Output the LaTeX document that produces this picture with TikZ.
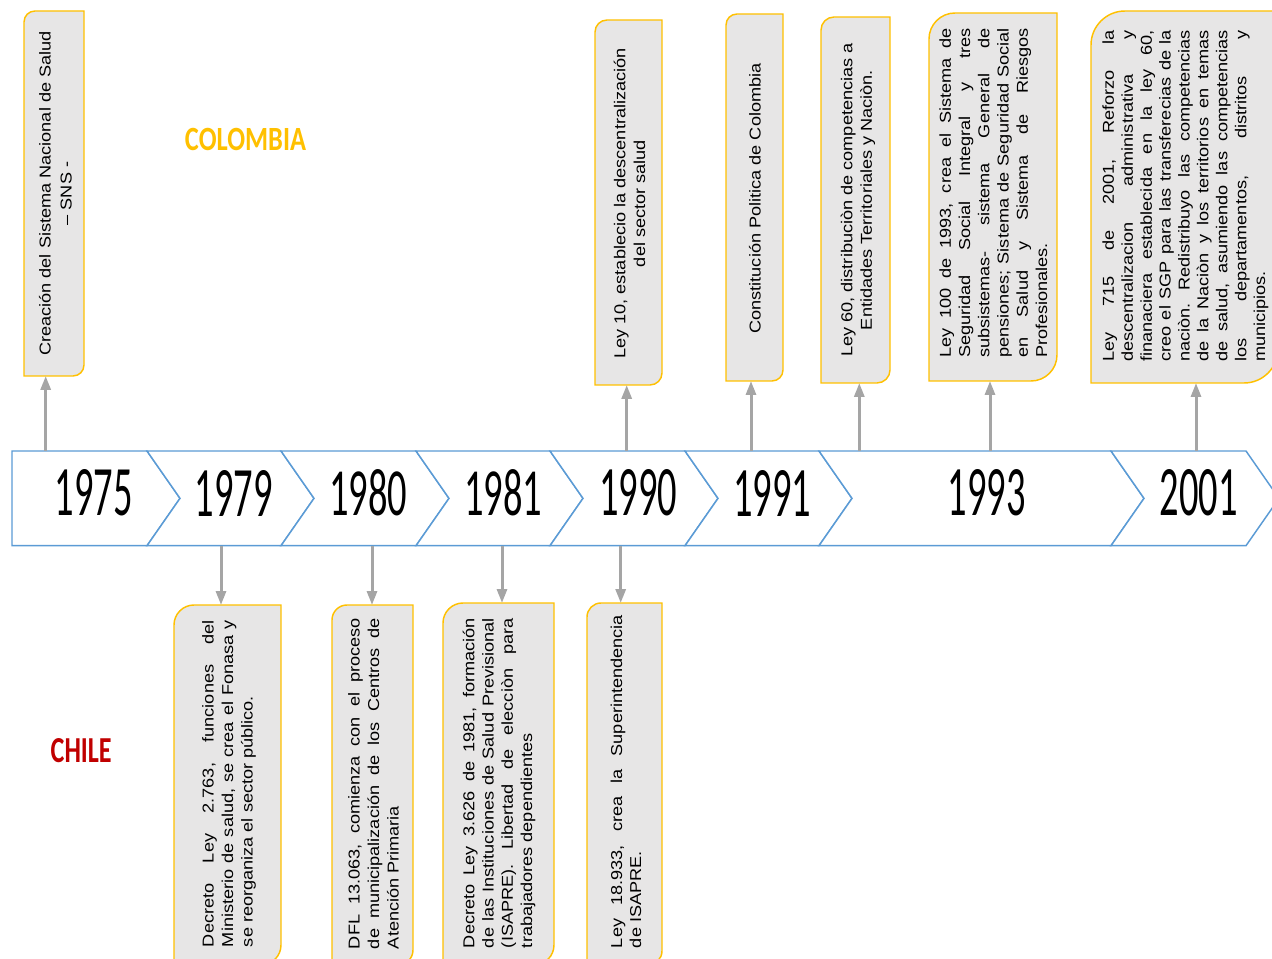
\documentclass[tikz,border=0pt]{standalone}
\usepackage{fontspec}
\usepackage{graphicx}
\setmainfont{Liberation Sans}
\newfontfamily\calfont{Carlito}
\usetikzlibrary{arrows.meta}
\definecolor{chevblue}{HTML}{5B9BD5}
\definecolor{boxgold}{HTML}{FFC000}
\definecolor{boxfill}{HTML}{E7E6E6}
\definecolor{arrgray}{HTML}{A5A5A5}
\definecolor{chilered}{HTML}{C00000}
\newcommand\mydiagbox[6]{%
  \draw[boxline] (#2,{#3+#6}) .. controls (#2,{#3+0.448*#6}) and ({#2+0.448*#6},#3) .. ({#2+#6},#3) -- (#4,#3) -- (#4,{#5-#6}) .. controls (#4,{#5-0.448*#6}) and ({#4-0.448*#6},#5) .. ({#4-#6},#5) -- (#2,#5) -- cycle;
  \node[area, minimum width={(#4-#2)*0.75pt}, minimum height={(#5-#3)*0.75pt}] (#1) at ({(#2+#4)/2},{(#3+#5)/2}) {};
}
\newcommand\vtxt[6]{%
  \node[vtext] (#1) at (#2,#3) {\scalebox{1}[0.87]{\parbox{#5}{\fontsize{13.6pt}{#4}\selectfont\frenchspacing\tolerance=10000\hbadness=10000\hyphenpenalty=10000\relax #6}}};
}
\newcommand\yr[3]{%
  \node[year] (y#1) at (#2,#3) {\resizebox{58.5pt}{34.5pt}{\calfont #1}};
}
\begin{document}
\begin{tikzpicture}[x=0.75pt,y=-0.75pt,
  chev/.style={draw=chevblue, line width=1.1pt, fill=white, line join=miter},
  boxline/.style={draw=boxgold, line width=1.1pt, fill=boxfill},
  area/.style={inner sep=0pt, outer sep=0pt},
  arr/.style={draw=arrgray, line width=2.25pt, -{Triangle[length=10.5pt,width=7.5pt]}},
  vtext/.style={rotate=90, inner sep=0pt, outer sep=0pt},
  year/.style={inner sep=0pt, outer sep=0pt},
]
\useasboundingbox (0,0) rectangle (1272,959);
\clip (0,0) rectangle (1272,959);
% timeline band
\draw[chev] (12,451) -- (147,451) -- (180,498.35) -- (147,545.7) -- (12,545.7) -- cycle;
\foreach \L/\R in {147/281, 281/416, 416/550, 550/685, 685/819, 819/1111, 1111/1246} {
  \draw[chev] (\L,451) -- (\R,451) -- ({\R+33},498.35) -- (\R,545.7) -- (\L,545.7) -- ({\L+33},498.35) -- cycle;
}
\node[area, minimum width=945pt, minimum height=71.025pt] (band) at (642,498.35) {};
% years
\yr{1975}{93.5}{493}
\yr{1979}{233.5}{493}
\yr{1980}{368}{493}
\yr{1981}{503}{493}
\yr{1990}{638}{493}
\yr{1991}{772}{493}
\yr{1993}{986.5}{493}
\yr{2001}{1198.5}{493}
% country labels
\node[year, text=boxgold] (colombia) at (245.5,139.5) {\resizebox{90.75pt}{16.7pt}{\calfont\bfseries COLOMBIA}};
\node[year, text=chilered] (chile) at (81.2,750.3) {\resizebox{45.75pt}{18pt}{\calfont\bfseries CHILE}};
% boxes
\mydiagbox{b1975}{24}{11}{84}{376}{11}
\mydiagbox{b1990u}{595}{20}{662}{385}{12}
\mydiagbox{b1991}{726}{14}{783}{381}{11}
\mydiagbox{b1993a}{821}{17}{890}{383}{13}
\mydiagbox{b1993}{929}{13}{1057}{381}{26}
\mydiagbox{b2001}{1091}{11}{1278}{383}{34}
\mydiagbox{b1979}{174}{605}{281}{965}{20}
\mydiagbox{b1980}{332}{605}{413}{965}{15}
\mydiagbox{b1981}{443}{603}{554}{965}{20}
\mydiagbox{b1990l}{587}{603}{662}{965}{14}
% texts
\vtxt{t1975}{55.5}{193.5}{18.1pt}{250pt}{\centering Creación del Sistema Nacional de Salud\\– SNS -}
\vtxt{t1990u}{629.5}{203.5}{17.2pt}{250pt}{\centering Ley 10, establecio la descentralización\\del sector salud}
\vtxt{t1991}{755}{198.5}{17pt}{250pt}{\centering Constitución Politica de Colombia}
\vtxt{t1993a}{858}{200}{16.8pt}{250pt}{\centering Ley 60, distribuciòn de competencias a\\Entidades Territoriales y Naciòn.}
\vtxt{t1993}{993.3}{193}{16.6pt}{247.5pt}{Ley 100 de 1993, crea el Sistema de\linebreak Seguridad Social Integral y tres\linebreak subsistemas- sistema General de\linebreak pensiones; Sistema de Seguridad Social\linebreak en Salud y Sistema de Riesgos\linebreak Profesionales.}
\vtxt{t2001}{1185.5}{196}{16.3pt}{249pt}{Ley 715 de 2001, Reforzo la\linebreak descentralizacion administrativa y\linebreak finanaciera establecida en la ley 60,\linebreak creo el SGP para las transferecias de la\linebreak naciòn. Redistribuyo las competencias\linebreak de la Naciòn y los territorios en temas\linebreak de salud, asumiendo las competencias\linebreak los departamentos, distritos y\linebreak municipios.}
\vtxt{t1979}{229}{783.5}{16.8pt}{245.25pt}{Decreto Ley 2.763, funciones del\linebreak Ministerio de salud, se crea el Fonasa y\linebreak se reorganiza el sector público.}
\vtxt{t1980}{373.5}{783.5}{16.8pt}{248.25pt}{DFL 13.063, comienza con el proceso\linebreak de municipalización de los Centros de\linebreak Atención Primaria}
\vtxt{t1981}{499}{783}{16.6pt}{247.5pt}{Decreto Ley 3.626 de 1981, formación\linebreak de las Instituciones de Salud Previsional\linebreak (ISAPRE). Libertad de elecciòn para\linebreak trabajadores dependientes}
\vtxt{t1990l}{626}{781.5}{16.4pt}{249.75pt}{Ley 18.933, crea la Superintendencia\linebreak de ISAPRE.}
% connectors
\coordinate (x1975) at (45.7,0);
\coordinate (x1979) at (221,0);
\coordinate (x1980) at (372,0);
\coordinate (x1981) at (502,0);
\coordinate (x1990l) at (620.7,0);
\coordinate (x1990u) at (626.7,0);
\coordinate (x1991) at (751,0);
\coordinate (x1993a) at (859.3,0);
\coordinate (x1993) at (990,0);
\coordinate (x2001) at (1196,0);
\foreach \n in {1975,1990u,1991,1993a,1993,2001} {
  \draw[arr] (band.north -| x\n) -- (b\n.south -| x\n);
}
\foreach \n in {1979,1980,1981,1990l} {
  \draw[arr] (band.south -| x\n) -- (b\n.north -| x\n);
}
\end{tikzpicture}
\end{document}
